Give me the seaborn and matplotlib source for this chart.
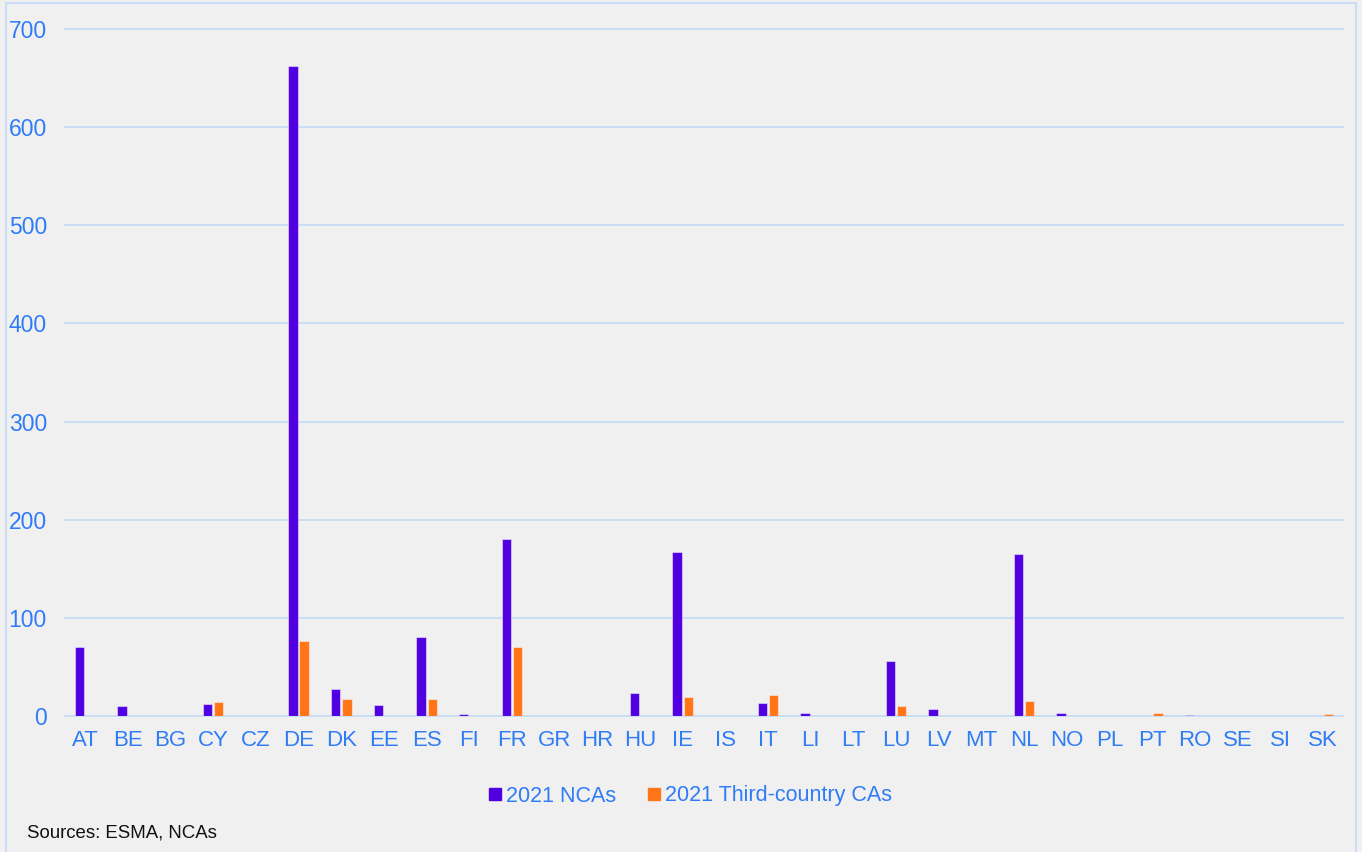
import matplotlib
matplotlib.use("Agg")
import matplotlib.pyplot as plt
import seaborn as sns
import pandas as pd
from matplotlib.patches import Rectangle
from matplotlib.lines import Line2D

countries = ["AT", "BE", "BG", "CY", "CZ", "DE", "DK", "EE", "ES", "FI", "FR", "GR", "HR", "HU",
             "IE", "IS", "IT", "LI", "LT", "LU", "LV", "MT", "NL", "NO", "PL", "PT", "RO", "SE",
             "SI", "SK"]
ncas = [70, 10, 0, 12, 0, 662, 28, 11, 80, 2, 180, 0, 0.5, 23,
        167, 0, 13, 3, 0, 56, 7, 0.5, 165, 3, 0, 0, 1, 0, 0, 0]
third = [0, 0.5, 0, 14, 0, 76, 17, 0, 17, 0.5, 70, 0, 0, 0,
         19, 0, 21, 0, 0, 10, 0, 0, 15, 0, 0, 3, 0, 0, 0, 2]
series_names = ["2021 NCAs", "2021 Third-country CAs"]

df = pd.DataFrame({
    "country": countries * 2,
    "value": ncas + third,
    "series": [series_names[0]] * len(countries) + [series_names[1]] * len(countries),
})

sns.set_theme(style="white")
plt.rcParams["font.family"] = ["Liberation Sans", "DejaVu Sans"]

BLUE_TXT = "#2f7cf6"
GRID = "#cadcf6"
BG = "#f0f0f0"
colors = {series_names[0]: "#5000e0", series_names[1]: "#ff7518"}

fig = plt.figure(figsize=(13.62, 8.52), dpi=100)
fig.patch.set_facecolor(BG)
ax = fig.add_axes([65 / 1362, 1 - 716 / 852, (1343 - 65) / 1362, (716 - 29) / 852])
ax.set_facecolor(BG)

sns.barplot(data=df, x="country", y="value", hue="series", palette=colors, saturation=1,
            width=0.53, gap=0.17, ax=ax, legend=False, edgecolor=(1, 1, 1, 0.45),
            linewidth=0.8)

n = len(countries)
ax.set_xlim(-0.47, n - 1 + 0.47)
ax.set_ylim(0, 700)
ax.set_yticks(range(0, 701, 100))
ax.yaxis.grid(True, color=GRID, linewidth=1.4)
for gl in ax.get_ygridlines():
    gl.set_clip_on(False)
ax.set_axisbelow(True)
for s in ax.spines.values():
    s.set_visible(False)
ax.set_xlabel("")
ax.set_ylabel("")
ax.tick_params(axis="y", colors=BLUE_TXT, labelsize=16.5, length=0, pad=13)
ax.tick_params(axis="x", colors=BLUE_TXT, labelsize=16, length=0, pad=10)

handles = [Line2D([0], [0], marker="s", linestyle="none", markersize=9,
                  markerfacecolor=colors[s], markeredgecolor=colors[s]) for s in series_names]
leg = fig.legend(handles, series_names, loc="center", bbox_to_anchor=(688 / 1362, 1 - 796 / 852),
                 ncol=2, frameon=False, fontsize=15.5, handletextpad=0.0, columnspacing=1.25,
                 handlelength=1.0)
for t in leg.get_texts():
    t.set_color(BLUE_TXT)

fig.text(27 / 1362, 1 - 833 / 852, "Sources: ESMA, NCAs", fontsize=13.4, color="#111111",
         va="center", ha="left")

fig.patches.append(Rectangle((6 / 1362, -0.01), (1356 - 6) / 1362, 1 - 3 / 852 + 0.01,
                             transform=fig.transFigure, fill=False, edgecolor=GRID,
                             linewidth=1.5))

fig.savefig("out.png", dpi=100, facecolor=BG)
